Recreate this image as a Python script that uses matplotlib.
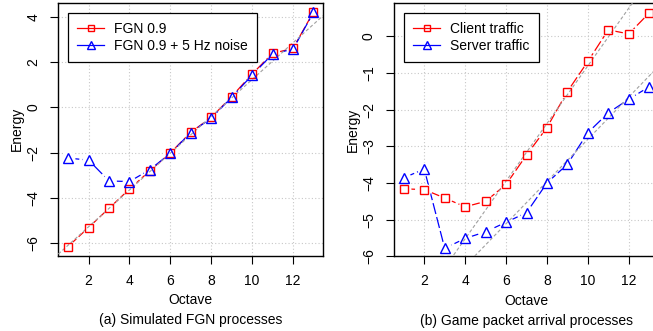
import numpy as np
import matplotlib
matplotlib.use("Agg")
import matplotlib.pyplot as plt
from matplotlib.lines import Line2D

plt.rcParams['font.family'] = ['Liberation Sans', 'DejaVu Sans']
plt.rcParams['font.size'] = 10

# wavelet energy per octave
octave = np.arange(1, 14)
fgn = [-6.15, -5.31, -4.46, -3.61, -2.80, -2.01, -1.10, -0.44, 0.48, 1.48, 2.39, 2.61, 4.22]
fgn_noise = [-2.24, -2.33, -3.25, -3.28, -2.75, -2.03, -1.11, -0.47, 0.45, 1.43, 2.36, 2.58, 4.20]
client = [-4.16, -4.18, -4.41, -4.65, -4.50, -4.04, -3.24, -2.49, -1.51, -0.69, 0.17, 0.06, 0.63]
server = [-3.86, -3.62, -5.78, -5.51, -5.33, -5.07, -4.81, -4.00, -3.49, -2.63, -2.09, -1.72, -1.38]

# fitted reference lines (slope, intercept)
fit_fgn = (0.814, -6.907)
fit_client = (0.785, -8.66)
fit_server = (0.575, -8.56)

W, H = 653, 331
fig = plt.figure(figsize=(W / 100, H / 100), dpi=100)
ax1 = fig.add_axes([58.3 / W, 1 - 256 / H, 265 / W, 253.3 / H])
ax2 = fig.add_axes([394 / W, 1 - 256.4 / H, 265 / W, 253.7 / H])


def series(ax, y, color, marker, ms):
    ax.plot(octave, y, color=color, lw=0.9, dashes=(9, 2.5), zorder=2)
    return (y, color, marker, ms)


def finish(ax, sets, fits, xlim, ylim, yticks, caption, leg_labels, leg_anchor):
    # white halos leave a gap in the line around every point
    for y, c, m, ms in sets:
        ax.plot(octave, y, ls='none', marker='o', ms=10, mfc='white', mec='none', zorder=3)
    xs = np.array(xlim)
    for slope, icpt in fits:
        ax.plot(xs, slope * xs + icpt, color='#a0a0a0', lw=0.8, dashes=(3, 2), zorder=4)
    for y, c, m, ms in sets:
        ax.plot(octave, y, ls='none', marker=m, ms=ms, mfc='none', mec=c, mew=1.0, zorder=5)

    ax.set_xlim(*xlim)
    ax.set_ylim(*ylim)
    ax.set_xticks([2, 4, 6, 8, 10, 12])
    ax.set_yticks(yticks)
    ax.grid(True, color='#c8c8c8', ls=(0, (1, 2)), lw=0.8, zorder=0)
    ax.tick_params(direction='out', length=5.5, width=0.8, labelsize=10, pad=7.5)
    ax.tick_params(axis='y', labelrotation=90)
    for lab in ax.get_yticklabels():
        lab.set_va('center')
    for sp in ax.spines.values():
        sp.set_linewidth(1.0)
    ax.set_xlabel('Octave', va='center')
    ax.xaxis.set_label_coords(0.5, -0.174)
    ax.set_ylabel('Energy', va='center')
    ax.yaxis.set_label_coords(-0.155, 0.5)
    ax.text(0.5, -0.253, caption, transform=ax.transAxes, ha='center', va='center')

    handles = [Line2D([], [], color=c, lw=0.9, marker=m, ms=ms - 1, mfc='none', mec=c, mew=1.0)
               for y, c, m, ms in sets]
    leg = ax.legend(handles, leg_labels, loc='upper left', bbox_to_anchor=leg_anchor,
                    borderaxespad=0, fancybox=False, framealpha=1, edgecolor='black',
                    handlelength=1.9, handletextpad=0.75, borderpad=0.68, labelspacing=0.2)
    leg.get_frame().set_linewidth(0.9)
    leg.set_zorder(10)


s1 = [series(ax1, fgn, 'red', 's', 5.5), series(ax1, fgn_noise, 'blue', '^', 6.5)]
finish(ax1, s1, [fit_fgn], (0.52, 13.48), (-6.57, 4.63), [-6, -4, -2, 0, 2, 4],
       '(a) Simulated FGN processes', ['FGN 0.9', 'FGN 0.9 + 5 Hz noise'], (0.0366, 0.9605))

s2 = [series(ax2, client, 'red', 's', 5.5), series(ax2, server, 'blue', '^', 6.5)]
finish(ax2, s2, [fit_client, fit_server], (0.52, 13.48), (-6, 0.91), [-6, -5, -4, -3, -2, -1, 0],
       '(b) Game packet arrival processes', ['Client traffic', 'Server traffic'], (0.0377, 0.9606))

fig.savefig('out.png', dpi=100)
